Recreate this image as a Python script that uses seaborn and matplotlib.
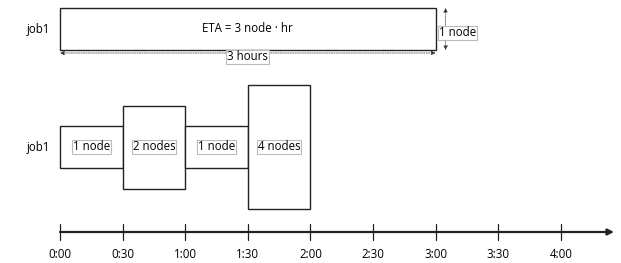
import numpy as np
import pandas as pd
import matplotlib
matplotlib.use('agg')
import matplotlib.pyplot as plt
from matplotlib.patches import Rectangle
import seaborn as sns

# segments of the job (hours)
seg_start = [0.0, 0.5, 1.0, 1.5]
seg_len = [0.5, 0.5, 0.5, 0.5]
seg_nodes = [1, 2, 1, 4]
seg_labels = ['1 node', '2 nodes', '1 node', '4 nodes']
seg_height = [1, 2, 1, 3]   # drawn heights (in "node" units)

top_len = 3.0
top_text = 'ETA = 3 node · hr'
tick_hours = [0, 0.5, 1, 1.5, 2, 2.5, 3, 3.5, 4]
tick_labels = ['0:00', '0:30', '1:00', '1:30', '2:00', '2:30', '3:00', '3:30', '4:00']

sns.set_style('white')
plt.rcParams['font.family'] = ['Open Sans', 'DejaVu Sans']
plt.rcParams['text.color'] = 'black'

fig = plt.figure(figsize=(6.21, 2.63), dpi=100)
ax = fig.add_axes([0, 0, 1, 1])
px = 125.2
ax.set_xlim(-60 / px, (621 - 60) / px)
ax.set_ylim(263, 0)
ax.axis('off')

unit = 41.5
fs = 8.3
box = dict(boxstyle='square,pad=0.08', fc='white', ec='#bbbbbb', lw=0.8)
dash_arrow = dict(arrowstyle='<|-|>', ls=(0, (2, 1.5)), color='#333333', lw=0.5,
                  mutation_scale=6, shrinkA=0, shrinkB=0)

# top row
top_y = 29
ax.add_patch(Rectangle((0, top_y - unit / 2), top_len, unit, fc='white', ec='#222222', lw=1))
ax.text(top_len / 2, top_y, top_text, ha='center', va='center', fontsize=fs)
ax.text(-22 / px, top_y, 'job1', ha='center', va='center', fontsize=fs)
ax.annotate('', xy=(0, 53), xytext=(top_len, 53), arrowprops=dash_arrow)
ax.text(top_len / 2, 57, '3 hours', ha='center', va='center', fontsize=fs, bbox=box)
vx = top_len + 10 / px
ax.annotate('', xy=(vx, 8), xytext=(vx, 50), arrowprops=dash_arrow)
ax.text(top_len + 3 / px, 33, '1 node', ha='left', va='center', fontsize=fs, bbox=box)

# bottom row
bot_y = 147
ax.text(-22 / px, bot_y, 'job1', ha='center', va='center', fontsize=fs)
for s, l, h, lab in zip(seg_start, seg_len, seg_height, seg_labels):
    ax.add_patch(Rectangle((s, bot_y - h * unit / 2), l, h * unit, fc='white', ec='#222222', lw=1))
    ax.text(s + l / 2, bot_y, lab, ha='center', va='center', fontsize=fs, bbox=box)

# time axis
axis_y = 232
ax.annotate('', xy=(614 / px - 60 / px, axis_y), xytext=(0, axis_y),
            arrowprops=dict(arrowstyle='-|>', color='#222222', lw=1.6,
                            mutation_scale=9, shrinkA=0, shrinkB=0))
for t, lab in zip(tick_hours, tick_labels):
    ax.plot([t, t], [224, 240], color='#222222', lw=0.9)
    ax.text(t, 255, lab, ha='center', va='center', fontsize=fs)

fig.savefig('out.png', dpi=100)
